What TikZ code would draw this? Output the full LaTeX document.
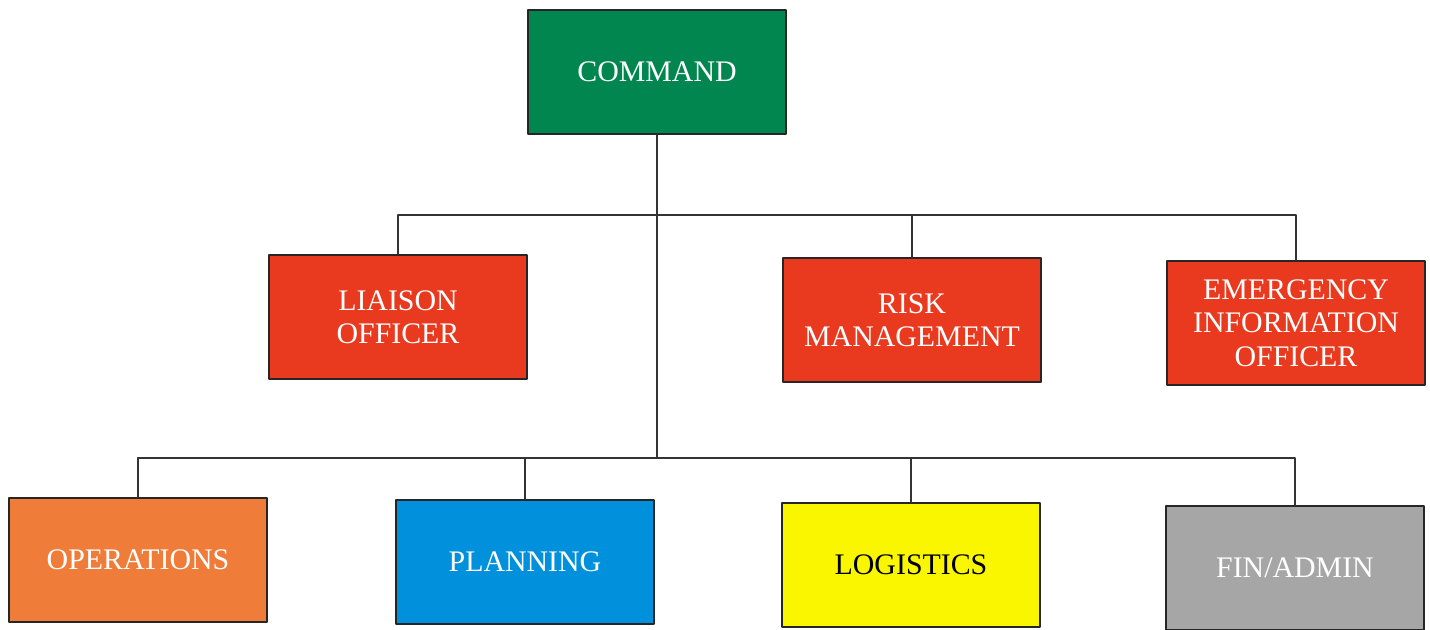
\documentclass[tikz,border=0pt]{standalone}
\usepackage{fontspec}
\setmainfont{Liberation Serif}
\definecolor{cmdgreen}{RGB}{0,134,78}
\definecolor{stafred}{RGB}{233,57,30}
\definecolor{opsorange}{RGB}{240,124,58}
\definecolor{planblue}{RGB}{0,144,220}
\definecolor{logyellow}{RGB}{250,246,0}
\definecolor{fingray}{RGB}{166,166,166}
\tikzset{
  unitbox/.style={draw=black!85,line width=0.9pt,minimum width=5.16cm,minimum height=2.47cm,
    align=center,text=white,font=\fontsize{17}{19}\selectfont,inner sep=2pt},
  link/.style={draw=black!80,line width=0.8pt}
}
\begin{document}
\begin{tikzpicture}[x=0.02cm,y=-0.02cm,line join=round,line cap=round]
			\useasboundingbox (0,0) rectangle (1430,629);
			\def\ytop{215} \def\ylow{458}
			% command and staff row
			\node[unitbox,fill=cmdgreen] (cmd) at (657,72) {COMMAND};
			\node[unitbox,fill=stafred] (liaison) at (398,317) {LIAISON\\OFFICER};
			\node[unitbox,fill=stafred] (risk) at (912,320) {RISK\\MANAGEMENT};
			\node[unitbox,fill=stafred] (eio) at (1296,323) {EMERGENCY\\INFORMATION\\OFFICER};
			% general staff row
			\node[unitbox,fill=opsorange] (ops) at (138,560) {OPERATIONS};
			\node[unitbox,fill=planblue] (plan) at (525,562) {PLANNING};
			\node[unitbox,fill=logyellow,text=black] (logi) at (911,565) {LOGISTICS};
			\node[unitbox,fill=fingray] (fin) at (1295,568) {FIN/ADMIN};
			\coordinate (top) at (657,\ytop);
			\coordinate (low) at (657,\ylow);
			\draw[link] (cmd.south)--(low);
			\draw[link] (liaison.north) |- (top) -| (eio.north);
			\draw[link] (ops.north) |- (low) -| (fin.north);
			\foreach \n in {risk}
			\draw[link] (\n.north)--(\n.north |- top);
			\foreach \n in {plan,logi}
			\draw[link] (\n.north)--(\n.north |- low);
		\end{tikzpicture}
\end{document}
